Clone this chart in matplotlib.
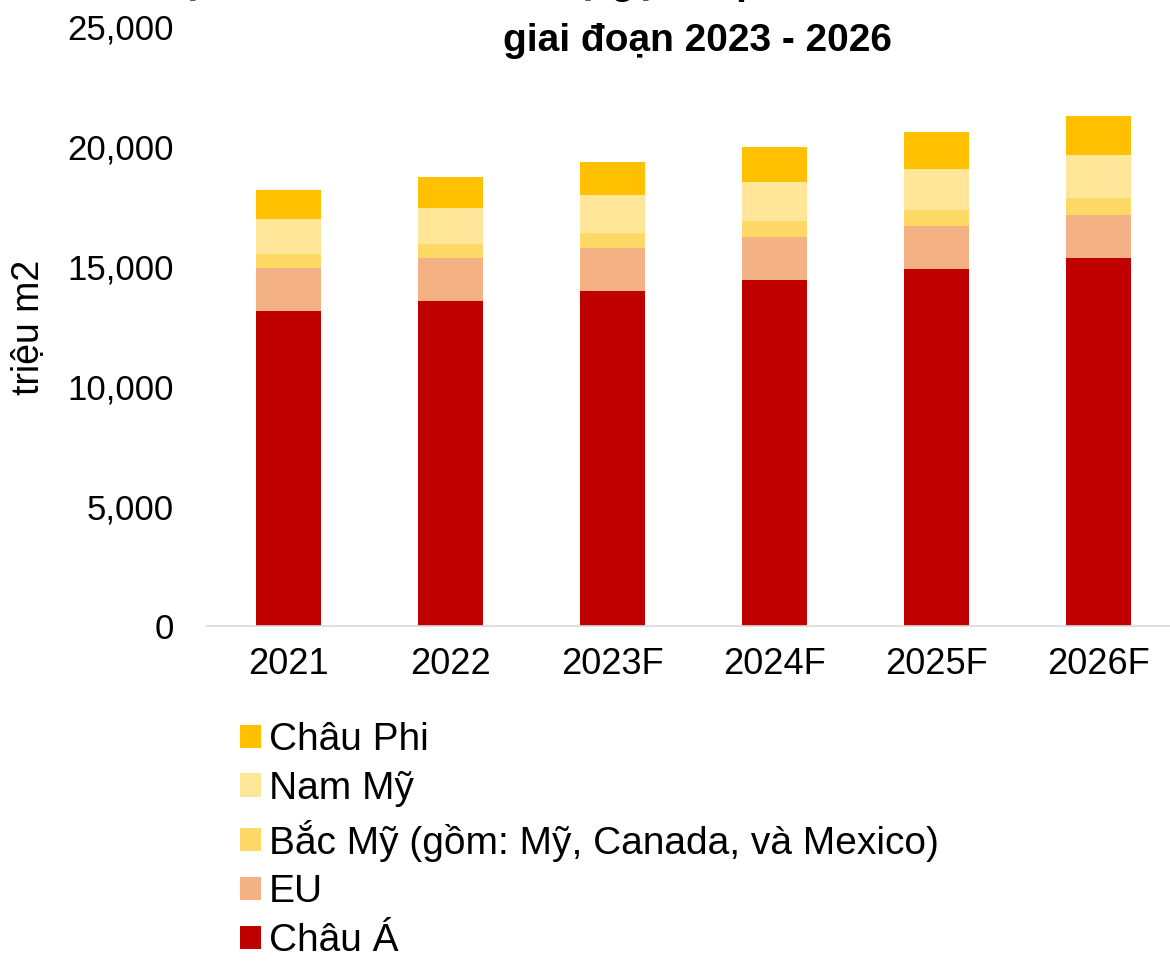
import matplotlib
matplotlib.use("Agg")
import matplotlib.pyplot as plt
import numpy as np
from matplotlib.ticker import FuncFormatter

plt.rcParams['font.family'] = ['Liberation Sans', 'DejaVu Sans']

# Data (triệu m2)
years = ['2021', '2022', '2023F', '2024F', '2025F', '2026F']
chau_a = [13150, 13550, 13970, 14420, 14880, 15350]
eu = [1780, 1790, 1790, 1800, 1800, 1790]
bac_my = [580, 610, 650, 670, 670, 710]
nam_my = [1480, 1510, 1580, 1640, 1740, 1820]
chau_phi = [1210, 1280, 1360, 1460, 1540, 1630]

series_names = ['Châu Á', 'EU', 'Bắc Mỹ (gồm: Mỹ, Canada, và Mexico)', 'Nam Mỹ', 'Châu Phi']
series_values = [chau_a, eu, bac_my, nam_my, chau_phi]
colors = ['#C00000', '#F4B183', '#FFD966', '#FFE699', '#FFC000']

# first title line is cut off at the top edge in the source picture
title_line1 = "Dự báo nhu cầu tiêu thụ gạch ốp lát toàn cầu theo khu vực"
title_line2 = "giai đoạn 2023 - 2026"

fig = plt.figure(figsize=(11.7, 9.67), dpi=100)
ax = fig.add_axes([207 / 1170, 1 - 626 / 967, 973 / 1170, (626 - 27) / 967])

x = np.arange(len(years))
bottom = np.zeros(len(years))
handles = []
for name, vals, col in zip(series_names, series_values, colors):
    b = ax.bar(x, vals, 0.4, bottom=bottom, color=col, label=name)
    handles.append(b)
    bottom += np.array(vals)

ax.set_ylim(0, 25000)
ax.set_xlim(-0.5, 5.5)
ax.set_yticks(np.arange(0, 25001, 5000))
ax.yaxis.set_major_formatter(FuncFormatter(lambda v, p: f"{int(v):,}"))
ax.set_xticks(x)
ax.set_xticklabels(years)
ax.tick_params(axis='both', length=0, colors='black')
ax.tick_params(axis='x', labelsize=26, pad=15)
ax.tick_params(axis='y', labelsize=25, pad=24)

for side in ['top', 'right', 'left']:
    ax.spines[side].set_visible(False)
ax.spines['bottom'].set_color('#D9D9D9')
ax.spines['bottom'].set_linewidth(1.2)

fig.text(29 / 1170, 1 - 327 / 967, 'triệu m2', rotation=90, fontsize=27,
         ha='center', va='center')

fig.text(697 / 1170, 1 + 6 / 967, title_line1, fontsize=28, fontweight='bold',
         ha='center', va='baseline')
fig.text(697 / 1170, 1 - 51 / 967, title_line2, fontsize=28, fontweight='bold',
         ha='center', va='baseline')

leg = fig.legend(handles[::-1], series_names[::-1], loc='upper left',
                 bbox_to_anchor=(240 / 1170, 1 - 722 / 967), frameon=False,
                 fontsize=28, handlelength=0.54, handleheight=0.54,
                 handletextpad=0.2, labelspacing=0.33, borderaxespad=0,
                 borderpad=0)

fig.savefig('out.png', dpi=100)
